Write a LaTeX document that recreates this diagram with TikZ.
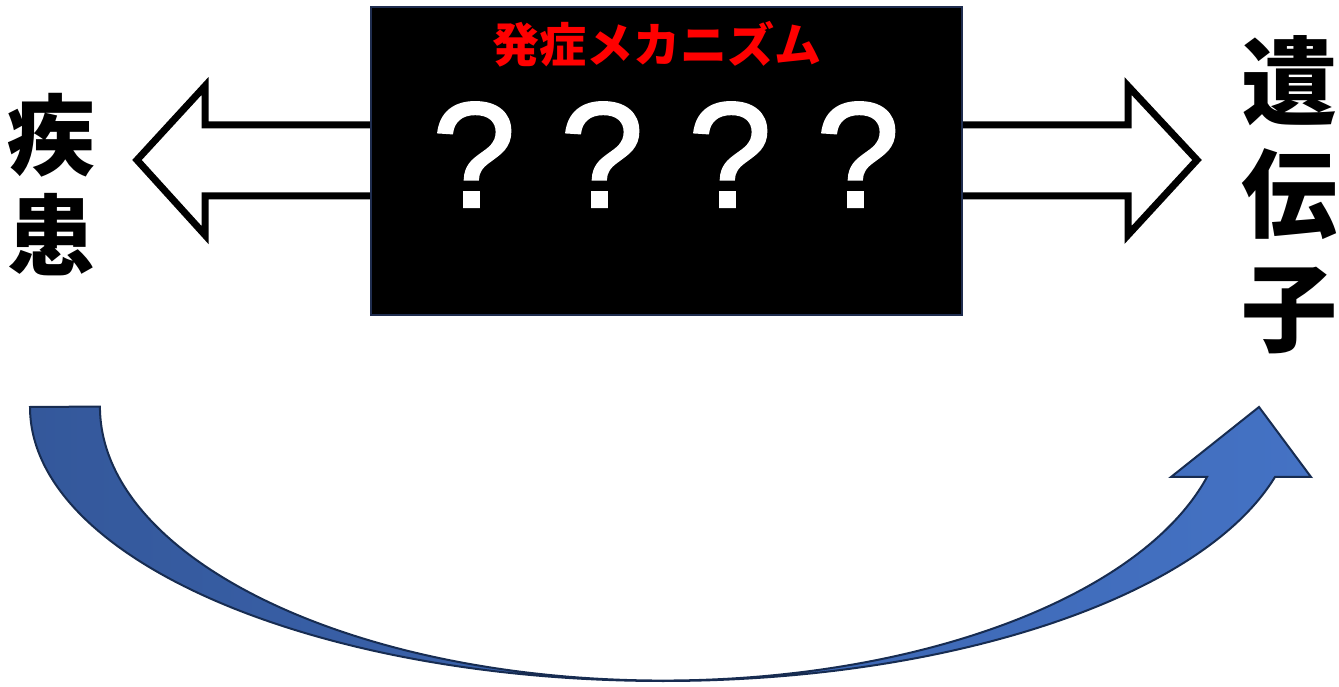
\documentclass[tikz,border=0pt]{standalone}
\usepackage{fontspec}
\newfontfamily\jp{Noto Sans CJK JP}
\setmainfont{Liberation Sans}
\newfontfamily\qf{Liberation Sans}[FakeBold=1.6]
\definecolor{navy}{RGB}{23,44,81}
\definecolor{boxline}{RGB}{31,45,79}
\definecolor{blueL}{RGB}{52,88,155}
\definecolor{blueR}{RGB}{68,114,196}
\begin{document}
\begin{tikzpicture}[x=1pt,y=1pt,
  hollow/.style={draw=black,line width=7pt,fill=white,line join=miter,miter limit=10},
  bigch/.style={font=\jp\bfseries\fontsize{88}{88}\selectfont,inner sep=0pt},
  bigchr/.style={font=\jp\bfseries\fontsize{96}{96}\selectfont,inner sep=0pt},
  qm/.style={anchor=base,text=white,inner sep=0pt,font=\qf\fontsize{150}{150}\selectfont}]
\useasboundingbox (0,0) rectangle (1339,686);
% hollow arrows
\draw[hollow] (385,561) -- (205,561) -- (205,600) -- (137,526) -- (205,451) -- (205,490) -- (385,490);
\draw[hollow] (950,561) -- (1128,561) -- (1128,600) -- (1197,526) -- (1128,451) -- (1128,490) -- (950,490);
% black box
\node[draw=boxline,fill=black,line width=2pt,minimum width=591pt,minimum height=308pt,inner sep=0pt] (box) at (666.5,525) {};
\node[text=red,font=\jp\bfseries\fontsize{47}{47}\selectfont,inner sep=0pt] (title) at (657,642) {発症メカニズム};
\node[qm] (q1) at (474,479) {?};
\node[qm] (q2) at (602,479) {?};
\node[qm] (q3) at (730,479) {?};
\node[qm] (q4) at (858,479) {?};
% side labels
\node[bigch] (d1) at (52,551) {疾};
\node[bigch] (d2) at (52,451) {患};
\node[bigchr] (g1) at (1289,605) {遺};
\node[bigchr] (g2) at (1289,492) {伝};
\node[bigchr] (g3) at (1289,375) {子};
% curved arrow
\draw[draw=navy,line width=2pt,left color=blueL,right color=blueR,line join=miter]
  (30,279) arc[start angle=180,end angle=270,x radius=633pt,y radius=274pt]
  arc[start angle=270,end angle=345.2,x radius=633pt,y radius=274pt]
  -- (1311,209) -- (1259,279) -- (1171,209) -- (1207,209)
  arc[start angle=345.1,end angle=270,x radius=563pt,y radius=274pt]
  arc[start angle=270,end angle=180,x radius=563pt,y radius=274pt]
  -- cycle;
\end{tikzpicture}
\end{document}
